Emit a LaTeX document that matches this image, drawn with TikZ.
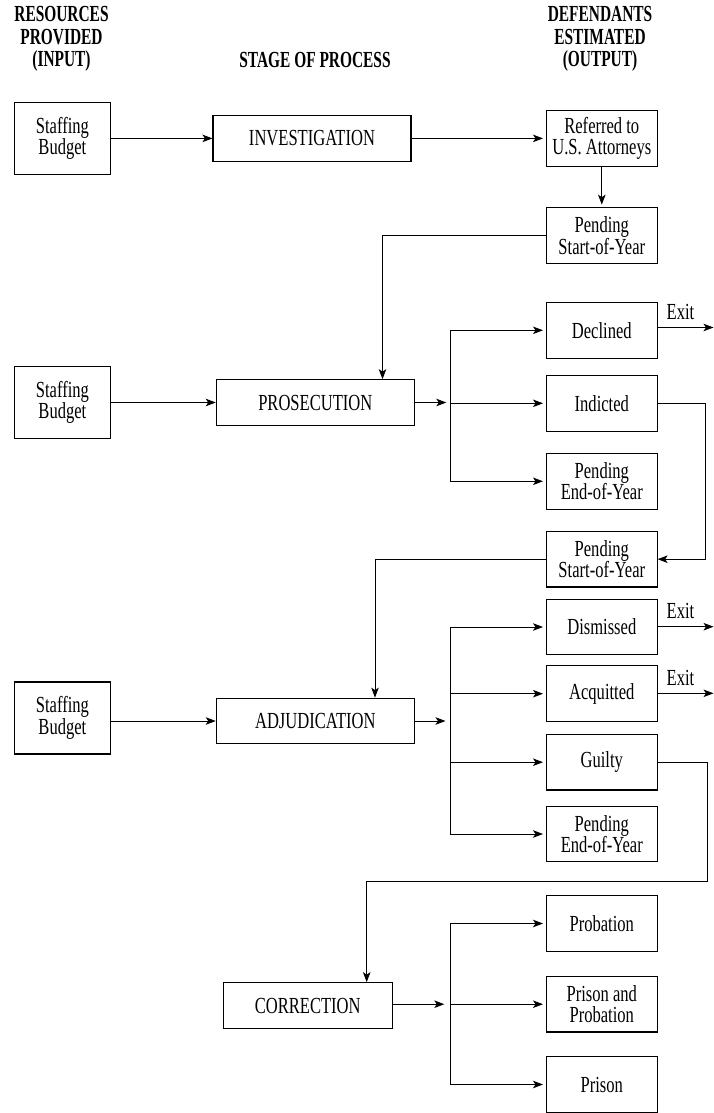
\documentclass[tikz,border=0pt]{standalone}
\usepackage{fontspec}
\setmainfont{Liberation Serif}[FakeStretch=0.72]
\newfontfamily\hdfont{Liberation Serif}[FakeStretch=0.67]
\usetikzlibrary{arrows.meta}
\tikzset{
  txt/.style={font=\fontsize{23}{21.5}\selectfont},
  box/.style={txt, draw=black, line width=1.1pt, inner sep=0pt, align=center},
  ob/.style={box, minimum width=110.5pt, minimum height=55.6pt},
  sb/.style={box, minimum width=95.6pt, minimum height=72pt},
  stg/.style={box, minimum width=198pt, minimum height=45.6pt},
  arr/.style={-{Stealth[length=10pt,width=7.5pt,inset=2.5pt]}, line width=0.9pt},
  ln/.style={line width=0.9pt},
  hd/.style={align=center, inner sep=0pt, font=\hdfont\bfseries\fontsize{23}{22.5}\selectfont},
  lbl/.style={txt, inner sep=0pt}
}
\begin{document}
\begin{tikzpicture}[x=1pt,y=-1pt]
\useasboundingbox (0,0) rectangle (714,1113);
% headers
\node[hd] (h1) at (61.5,39) {RESOURCES\\PROVIDED\\(INPUT)};
\node[hd] (h2) at (315,60) {STAGE OF PROCESS};
\node[hd] (h3) at (600,39) {DEFENDANTS\\ESTIMATED\\(OUTPUT)};
% nodes
\node[sb] (st1) at (62.4,138.4) {Staffing\\Budget};
\node[stg] (inv) at (312,138.4) {INVESTIGATION};
\node[ob] (ref) at (601.8,138.4) {Referred to\\U.S. Attorneys};
\node[ob] (psy1) at (601.8,235.5) {Pending\\Start-of-Year};
\node[sb] (st2) at (62.4,402.5) {Staffing\\Budget};
\node[stg] (pros) at (315.3,402.5) {PROSECUTION};
\node[ob] (decl) at (601.8,330.3) {Declined};
\node[ob] (ind) at (601.8,403.3) {Indicted};
\node[ob] (pey1) at (601.8,481.3) {Pending\\End-of-Year};
\node[ob] (psy2) at (601.8,559.2) {Pending\\Start-of-Year};
\node[ob] (dism) at (601.8,627) {Dismissed};
\node[ob] (acq) at (601.8,693.7) {Acquitted};
\node[ob] (guil) at (601.8,762.2) {Guilty};
\node[ob] (pey2) at (601.8,834) {Pending\\End-of-Year};
\node[sb] (st3) at (62.4,718) {Staffing\\Budget};
\node[stg] (adj) at (315.3,721) {ADJUDICATION};
\node[ob] (prob) at (601.8,923.5) {Probation};
\node[ob] (pp) at (601.8,1004.2) {Prison and\\Probation};
\node[ob] (pris) at (601.8,1084.5) {Prison};
\node[stg, minimum width=168.7pt] (corr) at (307.7,1005.5) {CORRECTION};
% investigation row
\draw[arr] (st1.east) -- (inv.west);
\draw[arr, shorten >=3pt] (inv.east) -- (ref.west);
\draw[arr, shorten >=2.5pt] (ref.south) -- (psy1.north);
\coordinate (j1) at (382.5,0);
\draw[arr] (psy1.west) -| (j1 |- pros.north);
% prosecution row
\draw[arr] (st2.east) -- (pros.west);
\coordinate (b1) at (450.3,402.5);
\draw[arr] (pros.east) -- ([xshift=-4pt]b1);
\draw[ln] (b1 |- decl) -- (b1 |- pey1);
\foreach \n in {decl,ind,pey1} \draw[arr, shorten >=3pt] (b1 |- \n) -- (\n.west);
\coordinate (e1) at (713.5,327.5);
\draw[arr] (decl.east |- e1) -- node[lbl, pos=0.41, anchor=base, yshift=8pt] {Exit} (e1);
\coordinate (r1) at (705,0);
\draw[arr] (ind.east) -| (r1 |- psy2) -- (psy2.east);
\coordinate (j2) at (375,0);
\draw[arr] (psy2.west) -| (j2 |- adj.north);
% adjudication row
\draw[arr] (st3.east |- adj) -- (adj.west);
\coordinate (b2) at (450,721);
\draw[arr] (adj.east) -- ([xshift=-4.5pt]b2);
\draw[ln] (b2 |- dism) -- (b2 |- pey2);
\foreach \n in {dism,acq,guil,pey2} \draw[arr, shorten >=3pt] (b2 |- \n) -- (\n.west);
\coordinate (e2) at (713.5,626.7);
\draw[arr] (dism.east |- e2) -- node[lbl, pos=0.41, anchor=base, yshift=8pt] {Exit} (e2);
\coordinate (e3) at (713.5,693.3);
\draw[arr] (acq.east |- e3) -- node[lbl, pos=0.41, anchor=base, yshift=8pt] {Exit} (e3);
\coordinate (r2) at (707.3,881);
\coordinate (j3) at (366.7,881);
\draw[arr] (guil.east) -| (r2) -- (j3) -- (corr.north -| j3);
% correction row
\coordinate (b3) at (450.3,1004.2);
\draw[arr] (corr.east |- b3) -- ([xshift=-6pt]b3);
\draw[ln] (b3 |- prob) -- (b3 |- pris);
\foreach \n in {prob,pp,pris} \draw[arr, shorten >=3pt] (b3 |- \n) -- (\n.west);
\end{tikzpicture}
\end{document}
